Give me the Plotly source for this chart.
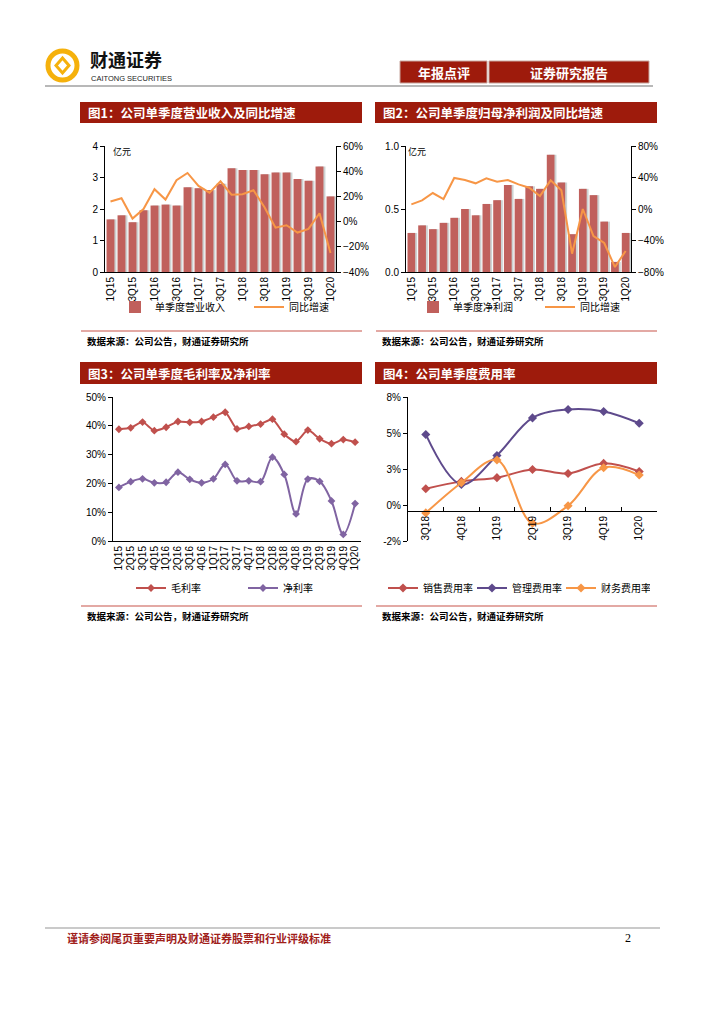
import plotly.graph_objects as go

# ---------------- data ----------------
quarters = ['1Q15', '2Q15', '3Q15', '4Q15', '1Q16', '2Q16', '3Q16', '4Q16', '1Q17', '2Q17', '3Q17',
            '4Q17', '1Q18', '2Q18', '3Q18', '4Q18', '1Q19', '2Q19', '3Q19', '4Q19', '1Q20']
quarter_ticks = quarters[::2]

revenue = [1.67, 1.80, 1.58, 1.96, 2.11, 2.14, 2.11, 2.69, 2.66, 2.60, 2.80,
           3.29, 3.24, 3.24, 3.10, 3.16, 3.16, 2.95, 2.90, 3.35, 2.40]
revenue_yoy = [15.9, 18.5, 2.4, 10.0, 25.7, 17.5, 32.8, 38.6, 28.3, 23.0, 32.0,
               21.4, 21.7, 24.9, 11.4, -4.8, -2.9, -8.7, -5.8, 6.6, -25.0]

profit = [0.31, 0.37, 0.34, 0.39, 0.43, 0.50, 0.45, 0.54, 0.57, 0.69, 0.58,
          0.68, 0.66, 0.93, 0.71, 0.30, 0.66, 0.61, 0.40, 0.08, 0.31]
profit_yoy = [5.9, 11.0, 20.3, 12.7, 39.4, 36.8, 32.6, 38.9, 34.7, 36.8, 31.3,
              27.0, 16.5, 36.4, 23.7, -56.7, 0.0, -34.3, -43.2, -73.7, -53.3]

gross_margin = [38.8, 39.3, 41.3, 38.3, 39.5, 41.5, 41.2, 41.5, 43.0, 44.7, 38.9,
                39.8, 40.6, 42.3, 37.1, 34.5, 38.5, 35.5, 33.8, 35.2, 34.3]
net_margin = [18.6, 20.6, 21.6, 20.2, 20.4, 23.9, 21.4, 20.2, 21.6, 26.6, 20.9,
              20.9, 20.6, 29.1, 23.1, 9.4, 21.5, 20.7, 13.9, 2.3, 13.0]

fee_quarters = ['3Q18', '4Q18', '1Q19', '2Q19', '3Q19', '4Q19', '1Q20']
sales_rate = [1.13, 1.64, 1.90, 2.47, 2.19, 2.89, 2.33]
admin_rate = [4.90, 1.43, 3.44, 6.05, 6.63, 6.49, 5.68]
finance_rate = [-0.55, 1.55, 3.12, -1.27, -0.05, 2.59, 2.08]

fee_tickvals = [-2.5, 0, 2.5, 5, 7.5]
fee_ticktext = ['-2%', '0%', '3%', '5%', '8%']

# ---------------- helpers ----------------
W, H = 724, 1024
OFF = 8  # page body margin
def px(x):
    return (x - OFF) / W
def py(y):
    return 1 - (y - OFF) / H

CJK = 'Noto Sans CJK SC'
LAT = 'Liberation Sans, Arial'
BAR = '#c0605c'
SHADOW = '#cdd3d3'
ORANGE = '#f79646'
RED = '#c0504d'
PURPLE = '#8064a2'
DPURPLE = '#5e4a8c'
TITLE_RED = '#9e1b0c'

fig = go.Figure()

# ---------------- chart 1 ----------------
fig.add_trace(go.Bar(x=quarters, y=revenue, xaxis='x', yaxis='y', marker_color=SHADOW,
                     marker_line_width=0, width=0.72, offset=-0.18, showlegend=False, hoverinfo='skip'))
fig.add_trace(go.Bar(x=quarters, y=revenue, name='单季度营业收入', xaxis='x', yaxis='y',
                     marker_color=BAR, marker_line_width=0, width=0.72, offset=-0.36, legend='legend'))
fig.add_trace(go.Scatter(x=quarters, y=revenue_yoy, name='同比增速', mode='lines',
                         line=dict(color=ORANGE, width=2), xaxis='x', yaxis='y2', legend='legend'))

# ---------------- chart 2 ----------------
fig.add_trace(go.Bar(x=quarters, y=profit, xaxis='x2', yaxis='y3', marker_color=SHADOW,
                     marker_line_width=0, width=0.72, offset=-0.18, showlegend=False, hoverinfo='skip'))
fig.add_trace(go.Bar(x=quarters, y=profit, name='单季度净利润', xaxis='x2', yaxis='y3',
                     marker_color=BAR, marker_line_width=0, width=0.72, offset=-0.36, legend='legend2'))
fig.add_trace(go.Scatter(x=quarters, y=profit_yoy, name='同比增速', mode='lines',
                         line=dict(color=ORANGE, width=2), xaxis='x2', yaxis='y4', legend='legend2'))

# ---------------- chart 3 ----------------
fig.add_trace(go.Scatter(x=quarters, y=gross_margin, name='毛利率', mode='lines+markers',
                         line=dict(color=RED, width=2, shape='spline', smoothing=0.6),
                         marker=dict(symbol='diamond', size=6, color=RED),
                         xaxis='x3', yaxis='y5', legend='legend3'))
fig.add_trace(go.Scatter(x=quarters, y=net_margin, name='净利率', mode='lines+markers',
                         line=dict(color=PURPLE, width=2, shape='spline', smoothing=1.0),
                         marker=dict(symbol='diamond', size=6, color=PURPLE),
                         xaxis='x3', yaxis='y5', legend='legend3'))

# ---------------- chart 4 ----------------
fig.add_trace(go.Scatter(x=fee_quarters, y=sales_rate, name='销售费用率', mode='lines+markers',
                         line=dict(color=RED, width=2, shape='spline', smoothing=1.0),
                         marker=dict(symbol='diamond', size=7, color=RED),
                         xaxis='x4', yaxis='y6', legend='legend4'))
fig.add_trace(go.Scatter(x=fee_quarters, y=admin_rate, name='管理费用率', mode='lines+markers',
                         line=dict(color=DPURPLE, width=2, shape='spline', smoothing=1.0),
                         marker=dict(symbol='diamond', size=7, color=DPURPLE),
                         xaxis='x4', yaxis='y6', legend='legend4'))
fig.add_trace(go.Scatter(x=fee_quarters, y=finance_rate, name='财务费用率', mode='lines+markers',
                         line=dict(color=ORANGE, width=2, shape='spline', smoothing=1.0),
                         marker=dict(symbol='diamond', size=7, color=ORANGE),
                         xaxis='x4', yaxis='y6', legend='legend4'))

tickfont = dict(family=LAT, size=10, color='#000')
ax_common = dict(showline=True, linecolor='#000', linewidth=1, showgrid=False, zeroline=False,
                 tickfont=tickfont, ticklen=4, tickcolor='#000', fixedrange=True, automargin=False)

legend_common = dict(orientation='h', xanchor='left', yanchor='middle', entrywidthmode='pixels',
                     bgcolor='rgba(0,0,0,0)', font=dict(family=CJK, size=10), itemwidth=30,
                     borderwidth=0)

fig.update_layout(
    width=W, height=H, autosize=False,
    margin=dict(l=0, r=0, t=0, b=0, pad=0, autoexpand=False),
    paper_bgcolor='white', plot_bgcolor='white',
    barmode='overlay',
    font=dict(family=CJK, size=10, color='#000'),
    # chart 1
    xaxis=dict(domain=[px(105), px(336)], anchor='y', type='category', range=[-0.5, 20.5],
               tickmode='array', tickvals=quarter_ticks, tickangle=-90, ticks='', **ax_common),
    yaxis=dict(domain=[py(272), py(146)], anchor='x', range=[0, 4], dtick=1, ticks='outside', **ax_common),
    yaxis2=dict(overlaying='y', side='right', anchor='x', range=[-40, 60], dtick=20,
                ticksuffix='%', ticks='outside', **ax_common),
    # chart 2
    xaxis2=dict(domain=[px(406), px(631)], anchor='y3', type='category', range=[-0.5, 20.5],
                tickmode='array', tickvals=quarter_ticks, tickangle=-90, ticks='', **ax_common),
    yaxis3=dict(domain=[py(272), py(146)], anchor='x2', range=[0, 1], dtick=0.5, tickformat='.1f',
                ticks='outside', **ax_common),
    yaxis4=dict(overlaying='y3', side='right', anchor='x2', range=[-80, 80], dtick=40,
                ticksuffix='%', ticks='outside', **ax_common),
    # chart 3
    xaxis3=dict(domain=[px(113), px(361)], anchor='y5', type='category', range=[-0.5, 20.5],
                tickmode='array', tickvals=quarters, tickangle=-90, ticks='', **ax_common),
    yaxis5=dict(domain=[py(541), py(397)], anchor='x3', range=[0, 50], dtick=10, ticksuffix='%',
                ticks='outside', **ax_common),
    # chart 4
    xaxis4=dict(domain=[px(408), px(657)], anchor='free', position=py(511), type='category',
                range=[-0.5, 6.5], tickangle=-90, ticks='inside', tickson='boundaries', **ax_common),
    yaxis6=dict(domain=[py(541), py(397)], anchor='x4', range=[-2.5, 7.5], tickmode='array',
                tickvals=fee_tickvals, ticktext=fee_ticktext, ticks='outside', **ax_common),
    legend=dict(x=px(115), y=py(307), entrywidth=89, **legend_common),
    legend2=dict(x=px(413), y=py(307), entrywidth=82, **legend_common),
    legend3=dict(x=px(131), y=py(588), entrywidth=67, **legend_common),
    legend4=dict(x=px(383), y=py(588), entrywidth=44, **legend_common),
)

shapes = []
annotations = []

def rect(x0, y0, x1, y1, color, line=None):
    shapes.append(dict(type='rect', xref='paper', yref='paper', x0=px(x0), x1=px(x1),
                       y0=py(y1), y1=py(y0), fillcolor=color,
                       line=dict(width=1 if line else 0, color=line or color), layer='below'))

def hline(x0, x1, y, color, width):
    shapes.append(dict(type='line', xref='paper', yref='paper', x0=px(x0), x1=px(x1),
                       y0=py(y), y1=py(y), line=dict(color=color, width=width)))

def text(x, y, s, size, color='#000', family=CJK, xanchor='left', bold=False):
    if bold:
        s = '<b>' + s + '</b>'
    annotations.append(dict(xref='paper', yref='paper', x=px(x), y=py(y), text=s, showarrow=False,
                            xanchor=xanchor, yanchor='middle',
                            font=dict(family=family, size=size, color=color)))

# header
shapes.append(dict(type='circle', xref='paper', yref='paper', x0=px(48), x1=px(77), y0=py(80), y1=py(51),
                   line=dict(color='#f5b10c', width=5)))
shapes.append(dict(type='path', xref='paper', yref='paper',
                   path='M %f %f L %f %f L %f %f L %f %f Z' % (px(62.5), py(58), px(69), py(65.5),
                                                            px(62.5), py(73), px(56), py(65.5)),
                   line=dict(color='#f5b10c', width=3)))
text(88, 59, '财通证券', 18, '#111', bold=True)
text(89, 78, 'CAITONG SECURITIES', 7.5, '#222', family=LAT)
rect(400, 61, 487, 83, TITLE_RED, '#c8a8a0')
rect(489, 61, 649, 83, TITLE_RED, '#c8a8a0')
text(443.5, 72, '年报点评', 13, 'white', xanchor='center', bold=True)
text(569, 72, '证券研究报告', 13, 'white', xanchor='center', bold=True)
hline(45, 653, 86, '#b8b8b8', 2)

# chart title bars
rect(80, 102, 362, 123, TITLE_RED)
rect(375, 102, 657, 123, TITLE_RED)
rect(80, 362, 362, 384, TITLE_RED)
rect(375, 362, 657, 384, TITLE_RED)
text(86, 112.5, '图1：公司单季度营业收入及同比增速', 12.5, 'white', bold=True)
text(381, 112.5, '图2：公司单季度归母净利润及同比增速', 12.5, 'white', bold=True)
text(86, 373, '图3：公司单季度毛利率及净利率', 12.5, 'white', bold=True)
text(381, 373, '图4：公司单季度费用率', 12.5, 'white', bold=True)

# unit labels
text(111, 151, '亿元', 9)
text(406, 151, '亿元', 9)

# sources
for (x0, x1, yl, yt) in [(81, 362, 331, 341), (376, 657, 331, 341), (81, 362, 606, 616), (376, 657, 606, 616)]:
    hline(x0, x1, yl, '#c8554a', 1.2)
    text(x0 + 4, yt, '数据来源：公司公告，财通证券研究所', 9.5, '#000', bold=True)

# footer
hline(45, 660, 928, '#b8b8b8', 1.5)
text(65, 938, '谨请参阅尾页重要声明及财通证券股票和行业评级标准', 11, '#a0201a', bold=True)
text(628, 938, '2', 12, '#000', family='Liberation Serif', xanchor='center')

fig.update_layout(shapes=shapes, annotations=annotations)

fig.write_html('out.html', config={'displayModeBar': False})
